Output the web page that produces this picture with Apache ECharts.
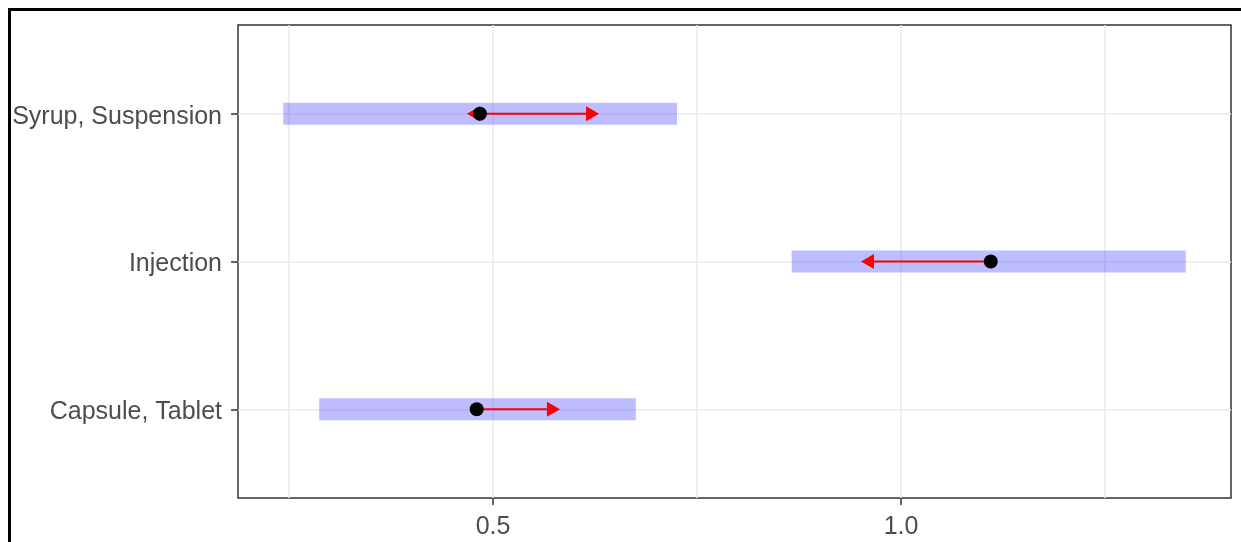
<!DOCTYPE html>
<html><head><meta charset="utf-8">
<script src="https://cdn.jsdelivr.net/npm/echarts@6/dist/echarts.min.js"></script>
<style>html,body{margin:0;padding:0;background:#fff}#c{width:1241px;height:542px}</style>
</head><body><div id="c"></div>
<script>
// ---- data ----
const categories = ['Capsule, Tablet', 'Injection', 'Syrup, Suspension'];
const rangeLow = [0.287, 0.866, 0.243];
const rangeHigh = [0.675, 1.349, 0.7255];
const pointValues = [0.480, 1.110, 0.484];
const arrowCategory = [0, 1, 2, 2];
const arrowFrom = [0.480, 1.110, 0.484, 0.484];
const arrowTo = [0.582, 0.951, 0.630, 0.468];
const xTickValues = [0.5, 1.0];
const xGridValues = [0.25, 0.5, 0.75, 1.0, 1.25];
const yTickValues = [1, 2, 3];
const xMin = 0.1875, xMax = 1.4044;
const yMin = 0.4, yMax = 3.6;

const chart = echarts.init(document.getElementById('c'), null, {renderer: 'canvas'});
const labelFont = {fontFamily: 'Liberation Sans, Arial, sans-serif', fontSize: 25, color: '#4d4d4d'};
const gridLine = {show: true, lineStyle: {color: '#ebebeb', width: 1.5}};

const barData = categories.map((c, i) => [rangeLow[i], rangeHigh[i], i + 1]);
const arrowData = arrowFrom.map((f, i) => [f, arrowTo[i], arrowCategory[i] + 1]);
const pointData = categories.map((c, i) => [pointValues[i], i + 1]);

chart.setOption({
  animation: false,
  backgroundColor: '#fff',
  graphic: [{
    type: 'rect', silent: true, z: 100,
    shape: {x: 9.5, y: 9.5, width: 1400, height: 700},
    style: {fill: null, stroke: '#000', lineWidth: 3}
  }],
  grid: {left: 238, right: 10, top: 25, bottom: 44, show: true, borderColor: '#333', borderWidth: 1.5, backgroundColor: 'transparent'},
  xAxis: [{
    type: 'value', min: xMin, max: xMax, position: 'bottom',
    axisLine: {show: false},
    axisTick: {show: true, customValues: xTickValues, length: 7, lineStyle: {color: '#333', width: 1.5}},
    axisLabel: Object.assign({customValues: xTickValues, margin: 17, formatter: v => v.toFixed(1)}, labelFont),
    splitLine: {show: false}
  }, {
    type: 'value', min: xMin, max: xMax, position: 'top',
    axisLine: {show: false},
    axisTick: {show: false, customValues: xGridValues},
    axisLabel: {show: false, customValues: xGridValues},
    splitLine: gridLine
  }],
  yAxis: {
    type: 'value', min: yMin, max: yMax,
    axisLine: {show: false},
    axisTick: {show: true, customValues: yTickValues, length: 7, lineStyle: {color: '#333', width: 1.5}},
    axisLabel: Object.assign({
      customValues: yTickValues, margin: 16,
      formatter: v => '{a|' + (categories[Math.round(v) - 1] || '') + '}',
      rich: {a: Object.assign({padding: [6, 0, 0, 0]}, labelFont)}
    }, labelFont),
    splitLine: gridLine
  },
  series: [{
    type: 'custom', z: 2,
    data: barData,
    encode: {x: [0, 1], y: 2},
    renderItem: (params, api) => {
      const p1 = api.coord([api.value(0), api.value(2)]);
      const p2 = api.coord([api.value(1), api.value(2)]);
      return {type: 'rect', shape: {x: p1[0], y: p1[1] - 11, width: p2[0] - p1[0], height: 22},
        style: {fill: 'rgba(0,0,255,0.26)'}};
    }
  }, {
    type: 'custom', z: 3,
    data: arrowData,
    encode: {x: [0, 1], y: 2},
    renderItem: (params, api) => {
      const p1 = api.coord([api.value(0), api.value(2)]);
      const p2 = api.coord([api.value(1), api.value(2)]);
      const dir = p2[0] >= p1[0] ? 1 : -1;
      const hl = 13, hw = 7.5;
      const back = p2[0] - dir * hl;
      return {type: 'group', children: [
        {type: 'line', shape: {x1: p1[0], y1: p1[1], x2: back, y2: p2[1]}, style: {stroke: '#ff0000', lineWidth: 2}},
        {type: 'polygon', shape: {points: [[p2[0], p2[1]], [back, p2[1] - hw], [back, p2[1] + hw]]}, style: {fill: '#ff0000'}}
      ]};
    }
  }, {
    type: 'scatter', z: 4,
    data: pointData,
    symbol: 'circle', symbolSize: 14,
    itemStyle: {color: '#000', opacity: 1}
  }]
});
</script>
</body></html>
